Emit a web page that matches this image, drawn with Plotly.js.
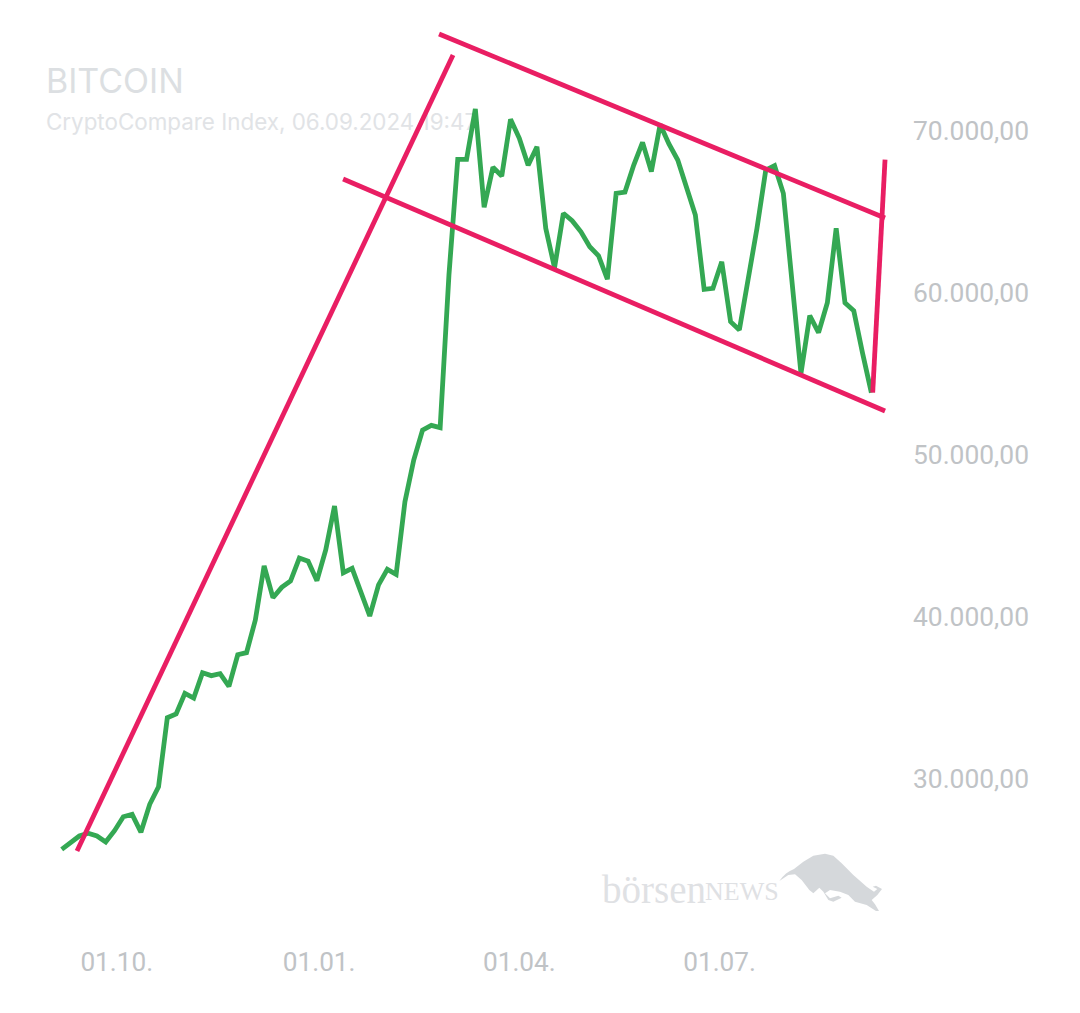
<!DOCTYPE html>
<html>
<head>
<meta charset="utf-8">
<script src="https://cdn.plot.ly/plotly-3.0.1.min.js"></script>
<style>
  html, body { margin: 0; padding: 0; background: #fff; }
</style>
</head>
<body>
<div id="canvas" style="width:1080px;height:1013px"></div>
<script>
// series, one point every 4 days
const DATES = [
  "2023-09-06","2023-09-10","2023-09-14","2023-09-18","2023-09-22","2023-09-26","2023-09-30",
  "2023-10-04","2023-10-08","2023-10-12","2023-10-16","2023-10-20","2023-10-24","2023-10-28",
  "2023-11-01","2023-11-05","2023-11-09","2023-11-13","2023-11-17","2023-11-21","2023-11-25","2023-11-29",
  "2023-12-03","2023-12-07","2023-12-11","2023-12-15","2023-12-19","2023-12-23","2023-12-27","2023-12-31",
  "2024-01-04","2024-01-08","2024-01-12","2024-01-16","2024-01-20","2024-01-24","2024-01-28",
  "2024-02-01","2024-02-05","2024-02-09","2024-02-13","2024-02-17","2024-02-21","2024-02-25","2024-02-29",
  "2024-03-04","2024-03-08","2024-03-12","2024-03-16","2024-03-20","2024-03-24","2024-03-28",
  "2024-04-01","2024-04-05","2024-04-09","2024-04-13","2024-04-17","2024-04-21","2024-04-25","2024-04-29",
  "2024-05-03","2024-05-07","2024-05-11","2024-05-15","2024-05-19","2024-05-23","2024-05-27","2024-05-31",
  "2024-06-04","2024-06-08","2024-06-12","2024-06-16","2024-06-20","2024-06-24","2024-06-28",
  "2024-07-02","2024-07-06","2024-07-10","2024-07-14","2024-07-18","2024-07-22","2024-07-26","2024-07-30",
  "2024-08-03","2024-08-07","2024-08-11","2024-08-15","2024-08-19","2024-08-23","2024-08-27","2024-08-31",
  "2024-09-04","2024-09-08"
];
const PRICES = [
  25660,26030,26480,26650,26480,26110,26810,
  27670,27820,26710,28440,29520,33780,34010,
  35290,35000,36560,36380,36500,35720,37670,37800,
  39810,43150,41190,41830,42220,43640,43440,42240,
  44140,46850,42730,43000,41560,40060,41980,
  42940,42630,47120,49690,51540,51830,51690,61110,
  68250,68250,71360,65290,67760,67220,70720,
  69550,67880,69030,63990,61560,64920,64460,63780,
  62860,62300,60850,66150,66230,67900,69300,67490,
  70400,69200,68210,66560,64810,60230,60290,
  61930,58230,57720,60800,63990,67590,67860,66150,
  60600,55040,58600,57550,59400,63990,59400,58910,
  56280,53850
];

// hand drawn trend lines
const RISE_X = ["2023-09-12 23:00", "2024-03-01 20:40"];
const RISE_Y = [25550, 74690];
const UPPER_X = ["2024-02-24 12:00", "2024-09-14 05:00"];
const UPPER_Y = [75990, 64630];
const LOWER_X = ["2024-01-11 21:36", "2024-09-14 05:00"];
const LOWER_Y = [67040, 52720];
const LAST_X = ["2024-09-08 14:24", "2024-09-14 05:00"];
const LAST_Y = [53850, 68240];

// axis labels
const X_TICKS = ["2023-10-01", "2024-01-01", "2024-04-01", "2024-07-01"];
const X_LABELS = ["01.10.", "01.01.", "01.04.", "01.07."];
const Y_TICKS = [30000, 40000, 50000, 60000, 70000];
const Y_LABELS = ["30.000,00", "40.000,00", "50.000,00", "60.000,00", "70.000,00"];

const TITLE = "BITCOIN";
const SUBTITLE = "CryptoCompare Index, 06.09.2024 19:47";

const PINK = "#e91e63";
const GREEN = "#34a853";
const AXIS_GREY = "#c0c3c6";

// plot area in page pixels, used for the logo placement
const PLOT_W = 908;
const PLOT_H = 925;

const BULL = "M28,108 C40,90 55,78 72,72 L100,50 L130,32 L165,26 L190,32 L215,55 L250,90 L290,125 L312,140 " +
  "L322,132 L308,125 L318,122 L336,132 L322,150 L305,165 L315,178 L327,198 L318,198 L290,180 L255,170 L235,150 " +
  "L210,140 L180,135 L165,145 L180,160 L205,152 L215,158 L190,170 L175,165 L160,140 L148,128 L130,145 L118,135 " +
  "L95,105 L75,88 L55,90 Z";
const BULL_SVG = '<svg xmlns="http://www.w3.org/2000/svg" viewBox="0 0 360 225" width="360" height="225">' +
  '<path d="' + BULL + '" fill="#d5d8db"/></svg>';

function lineTrace(x, y, color) {
  return { x: x, y: y, mode: "lines", type: "scatter", hoverinfo: "skip",
           line: { color: color, width: 4.8 } };
}

function textTrace(x, y, text, size, color) {
  return { x: [x], y: [y], text: [text], mode: "text", type: "scatter", hoverinfo: "skip",
           textposition: "middle right",
           textfont: { family: "Inter", size: size, color: color } };
}

var getPlotData = () => [
  // text first so the lines run over it
  textTrace("2023-08-29 20:00", 72840, TITLE, 34, "#dcdfe2"),
  textTrace("2023-08-29 20:00", 70430, SUBTITLE, 22.4, "#e1e3e6"),
  lineTrace(DATES, PRICES, GREEN),
  lineTrace(RISE_X, RISE_Y, PINK),
  lineTrace(UPPER_X, UPPER_Y, PINK),
  lineTrace(LOWER_X, LOWER_Y, PINK),
  lineTrace(LAST_X, LAST_Y, PINK),
];

var getPlotLayout = () => ({
  width: 1080,
  height: 1013,
  margin: { l: 0, r: 1080 - PLOT_W, t: 0, b: 1013 - PLOT_H, pad: 0 },
  paper_bgcolor: "#ffffff",
  plot_bgcolor: "#ffffff",
  showlegend: false,
  hovermode: false,
  xaxis: {
    type: "date",
    range: ["2023-08-08 22:48", "2024-09-24 15:36"],
    tickmode: "array",
    tickvals: X_TICKS,
    ticktext: X_LABELS,
    showgrid: false,
    zeroline: false,
    showline: false,
    ticks: "",
    ticklabelstandoff: 19,
    tickfont: { family: "Roboto", size: 26.2, color: AXIS_GREY },
  },
  yaxis: {
    side: "right",
    range: [20988, 78086],
    tickmode: "array",
    tickvals: Y_TICKS,
    ticktext: Y_LABELS,
    showgrid: false,
    zeroline: false,
    showline: false,
    ticks: "",
    ticklabelstandoff: 4,
    tickfont: { family: "Roboto", size: 26.4, color: AXIS_GREY },
  },
  annotations: [
    { xref: "paper", yref: "paper", x: 600 / PLOT_W, y: 1 - 889 / PLOT_H, xanchor: "left", yanchor: "middle",
      text: "börsen", showarrow: false, font: { family: "Liberation Serif", size: 39, color: "#dfe1e4" } },
    { xref: "paper", yref: "paper", x: 703 / PLOT_W, y: 1 - 891 / PLOT_H, xanchor: "left", yanchor: "middle",
      text: "NEWS", showarrow: false, font: { family: "Liberation Serif", size: 26, color: "#dfe1e4" } },
  ],
  images: [
    { source: "data:image/svg+xml;utf8," + encodeURIComponent(BULL_SVG),
      xref: "paper", yref: "paper", x: 770 / PLOT_W, y: 1 - 845 / PLOT_H,
      sizex: 120 / PLOT_W, sizey: 75 / PLOT_H, xanchor: "left", yanchor: "top",
      sizing: "stretch", layer: "below" },
  ],
});

Plotly.newPlot("canvas", getPlotData(), getPlotLayout(), { displayModeBar: false, staticPlot: true });
</script>
</body>
</html>
